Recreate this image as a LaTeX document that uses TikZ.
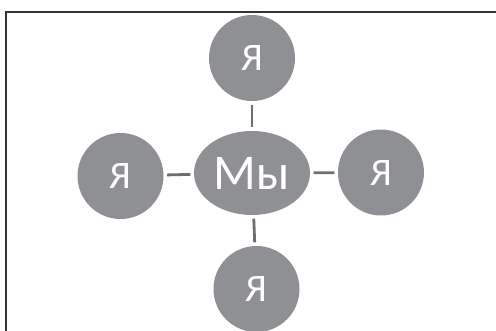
\documentclass[tikz,border=0pt]{standalone}
\usepackage{fontspec}
\setmainfont{Carlito}
\usetikzlibrary{shapes.geometric}
\definecolor{bubble}{HTML}{8F9094}
\definecolor{link}{HTML}{6E6E70}
\definecolor{frame}{HTML}{333333}
\begin{document}
\begin{tikzpicture}[x=1pt,y=-1pt,
  ya/.style={circle, fill=bubble, minimum size=86pt, inner sep=0pt, text=white, font=\fontsize{39}{39}\selectfont},
  we/.style={ellipse, fill=bubble, minimum width=116pt, minimum height=84pt, inner sep=0pt, text=white, font=\fontsize{50}{50}\selectfont},
  conn/.style={draw=link, line width=2.8pt, shorten >=3.5pt, shorten <=3.5pt}]
\useasboundingbox (0,0) rectangle (496,331);
\draw[frame, line width=2.2pt] (6,340) -- (6,12) -- (505,12);
\node[we] (we) at (252,173) {Мы};
\node[ya] (top) at (252,58) {Я};
\node[ya] (left) at (120.5,176) {Я};
\node[ya] (right) at (381,172.5) {Я};
\node[ya] (bottom) at (256.5,289) {Я};
\draw[conn] (top) -- (we);
\draw[conn] (left) -- (we);
\draw[conn] (right) -- (we);
\draw[conn] (bottom) -- (we);
\end{tikzpicture}
\end{document}
